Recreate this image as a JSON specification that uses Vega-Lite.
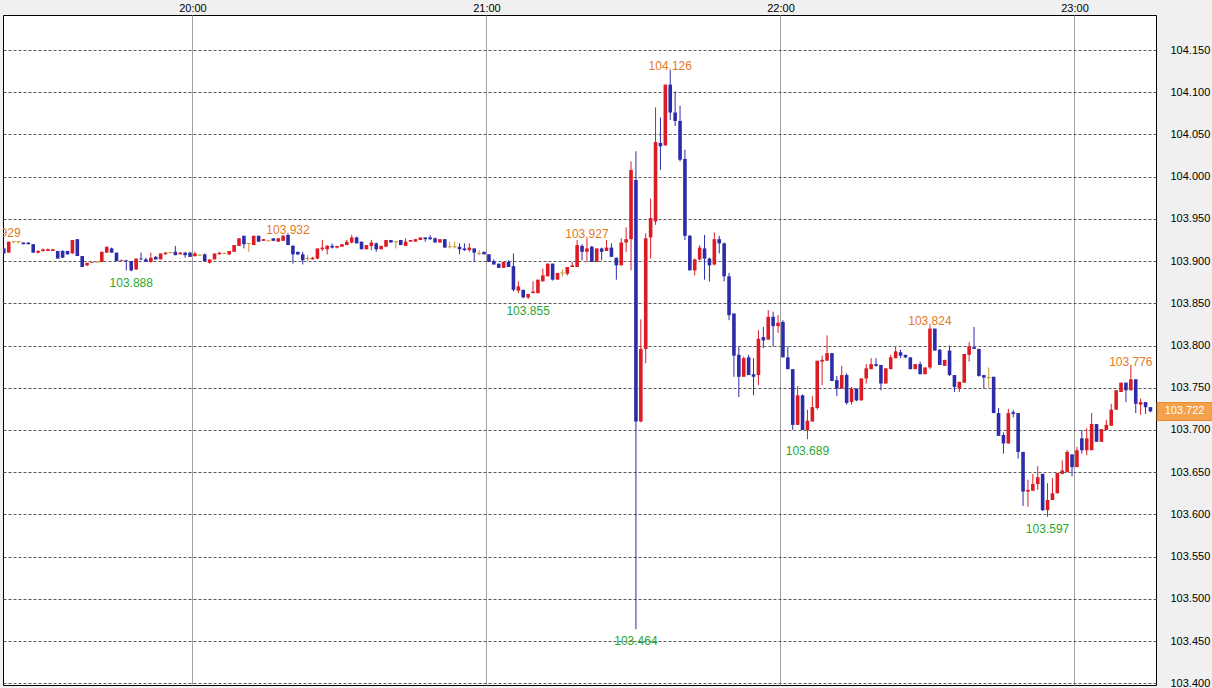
{
"$schema": "https://vega.github.io/schema/vega-lite/v6.json",
"width": 1153, "height": 670,
"autosize": "none",
"padding": {"left": 3, "top": 15, "right": 56, "bottom": 3},
"background": "#f0f0f0",
"config": {
 "view": {"fill": "#ffffff", "stroke": "#000000", "strokeWidth": 1},
 "axis": {"labelFont": "Liberation Sans, Arial, sans-serif", "labelFontSize": 11, "labelColor": "#000000", "ticks": false, "domain": false, "title": null}
},
"data": {"format": {"parse": {"t": "date:'%H:%M'"}}, "values": [
{"t":"19:20","o":103.918,"h":103.929,"l":103.914,"c":103.916},
{"t":"19:21","o":103.915,"h":103.916,"l":103.909,"c":103.909},
{"t":"19:22","o":103.910,"h":103.923,"l":103.910,"c":103.923},
{"t":"19:23","o":103.923,"h":103.923,"l":103.921,"c":103.923},
{"t":"19:24","o":103.923,"h":103.923,"l":103.921,"c":103.923},
{"t":"19:25","o":103.922,"h":103.922,"l":103.920,"c":103.920},
{"t":"19:26","o":103.922,"h":103.922,"l":103.920,"c":103.920},
{"t":"19:27","o":103.920,"h":103.920,"l":103.910,"c":103.910},
{"t":"19:28","o":103.910,"h":103.913,"l":103.909,"c":103.912},
{"t":"19:29","o":103.912,"h":103.915,"l":103.911,"c":103.914},
{"t":"19:30","o":103.912,"h":103.915,"l":103.912,"c":103.914},
{"t":"19:31","o":103.912,"h":103.914,"l":103.912,"c":103.914},
{"t":"19:32","o":103.912,"h":103.912,"l":103.903,"c":103.903},
{"t":"19:33","o":103.912,"h":103.913,"l":103.904,"c":103.904},
{"t":"19:34","o":103.912,"h":103.912,"l":103.908,"c":103.908},
{"t":"19:35","o":103.909,"h":103.925,"l":103.909,"c":103.925},
{"t":"19:36","o":103.926,"h":103.926,"l":103.906,"c":103.906},
{"t":"19:37","o":103.906,"h":103.906,"l":103.893,"c":103.893},
{"t":"19:38","o":103.895,"h":103.898,"l":103.894,"c":103.898},
{"t":"19:39","o":103.898,"h":103.899,"l":103.898,"c":103.899},
{"t":"19:40","o":103.899,"h":103.900,"l":103.898,"c":103.899},
{"t":"19:41","o":103.899,"h":103.911,"l":103.899,"c":103.911},
{"t":"19:42","o":103.910,"h":103.917,"l":103.910,"c":103.917},
{"t":"19:43","o":103.915,"h":103.916,"l":103.910,"c":103.910},
{"t":"19:44","o":103.910,"h":103.910,"l":103.900,"c":103.900},
{"t":"19:45","o":103.900,"h":103.902,"l":103.900,"c":103.901},
{"t":"19:46","o":103.901,"h":103.901,"l":103.889,"c":103.900},
{"t":"19:47","o":103.900,"h":103.900,"l":103.888,"c":103.889},
{"t":"19:48","o":103.890,"h":103.903,"l":103.890,"c":103.903},
{"t":"19:49","o":103.903,"h":103.910,"l":103.901,"c":103.902},
{"t":"19:50","o":103.902,"h":103.904,"l":103.899,"c":103.899},
{"t":"19:51","o":103.899,"h":103.910,"l":103.898,"c":103.904},
{"t":"19:52","o":103.905,"h":103.906,"l":103.902,"c":103.902},
{"t":"19:53","o":103.902,"h":103.909,"l":103.902,"c":103.909},
{"t":"19:54","o":103.908,"h":103.911,"l":103.908,"c":103.910},
{"t":"19:55","o":103.910,"h":103.911,"l":103.909,"c":103.910},
{"t":"19:56","o":103.911,"h":103.918,"l":103.907,"c":103.907},
{"t":"19:57","o":103.908,"h":103.911,"l":103.908,"c":103.910},
{"t":"19:58","o":103.910,"h":103.911,"l":103.904,"c":103.907},
{"t":"19:59","o":103.910,"h":103.911,"l":103.905,"c":103.905},
{"t":"20:00","o":103.906,"h":103.911,"l":103.905,"c":103.909},
{"t":"20:01","o":103.907,"h":103.908,"l":103.906,"c":103.907},
{"t":"20:02","o":103.908,"h":103.909,"l":103.900,"c":103.900},
{"t":"20:03","o":103.898,"h":103.902,"l":103.897,"c":103.902},
{"t":"20:04","o":103.902,"h":103.909,"l":103.902,"c":103.909},
{"t":"20:05","o":103.908,"h":103.911,"l":103.908,"c":103.910},
{"t":"20:06","o":103.909,"h":103.910,"l":103.909,"c":103.909},
{"t":"20:07","o":103.908,"h":103.912,"l":103.907,"c":103.912},
{"t":"20:08","o":103.911,"h":103.919,"l":103.911,"c":103.919},
{"t":"20:09","o":103.918,"h":103.927,"l":103.918,"c":103.927},
{"t":"20:10","o":103.930,"h":103.930,"l":103.915,"c":103.920},
{"t":"20:11","o":103.921,"h":103.921,"l":103.911,"c":103.921},
{"t":"20:12","o":103.919,"h":103.930,"l":103.919,"c":103.930},
{"t":"20:13","o":103.930,"h":103.930,"l":103.923,"c":103.923},
{"t":"20:14","o":103.924,"h":103.926,"l":103.924,"c":103.926},
{"t":"20:15","o":103.924,"h":103.925,"l":103.924,"c":103.924},
{"t":"20:16","o":103.927,"h":103.927,"l":103.924,"c":103.924},
{"t":"20:17","o":103.923,"h":103.927,"l":103.923,"c":103.927},
{"t":"20:18","o":103.924,"h":103.931,"l":103.924,"c":103.930},
{"t":"20:19","o":103.931,"h":103.932,"l":103.919,"c":103.919},
{"t":"20:20","o":103.918,"h":103.919,"l":103.897,"c":103.908},
{"t":"20:21","o":103.911,"h":103.911,"l":103.907,"c":103.908},
{"t":"20:22","o":103.908,"h":103.911,"l":103.896,"c":103.901},
{"t":"20:23","o":103.903,"h":103.907,"l":103.900,"c":103.903},
{"t":"20:24","o":103.902,"h":103.905,"l":103.902,"c":103.904},
{"t":"20:25","o":103.903,"h":103.915,"l":103.902,"c":103.915},
{"t":"20:26","o":103.914,"h":103.925,"l":103.912,"c":103.916},
{"t":"20:27","o":103.914,"h":103.919,"l":103.908,"c":103.918},
{"t":"20:28","o":103.918,"h":103.921,"l":103.915,"c":103.916},
{"t":"20:29","o":103.916,"h":103.918,"l":103.915,"c":103.918},
{"t":"20:30","o":103.917,"h":103.920,"l":103.917,"c":103.920},
{"t":"20:31","o":103.919,"h":103.925,"l":103.919,"c":103.923},
{"t":"20:32","o":103.922,"h":103.931,"l":103.921,"c":103.928},
{"t":"20:33","o":103.928,"h":103.929,"l":103.921,"c":103.921},
{"t":"20:34","o":103.923,"h":103.923,"l":103.914,"c":103.914},
{"t":"20:35","o":103.914,"h":103.919,"l":103.914,"c":103.919},
{"t":"20:36","o":103.918,"h":103.925,"l":103.913,"c":103.922},
{"t":"20:37","o":103.921,"h":103.922,"l":103.911,"c":103.914},
{"t":"20:38","o":103.914,"h":103.918,"l":103.914,"c":103.918},
{"t":"20:39","o":103.917,"h":103.925,"l":103.917,"c":103.925},
{"t":"20:40","o":103.925,"h":103.925,"l":103.922,"c":103.922},
{"t":"20:41","o":103.923,"h":103.923,"l":103.915,"c":103.923},
{"t":"20:42","o":103.925,"h":103.925,"l":103.919,"c":103.919},
{"t":"20:43","o":103.918,"h":103.927,"l":103.918,"c":103.923},
{"t":"20:44","o":103.923,"h":103.925,"l":103.923,"c":103.925},
{"t":"20:45","o":103.923,"h":103.926,"l":103.923,"c":103.926},
{"t":"20:46","o":103.925,"h":103.928,"l":103.925,"c":103.928},
{"t":"20:47","o":103.928,"h":103.928,"l":103.923,"c":103.926},
{"t":"20:48","o":103.928,"h":103.931,"l":103.925,"c":103.926},
{"t":"20:49","o":103.927,"h":103.928,"l":103.922,"c":103.922},
{"t":"20:50","o":103.922,"h":103.926,"l":103.922,"c":103.926},
{"t":"20:51","o":103.926,"h":103.926,"l":103.916,"c":103.916},
{"t":"20:52","o":103.917,"h":103.923,"l":103.915,"c":103.917},
{"t":"20:53","o":103.917,"h":103.923,"l":103.915,"c":103.917},
{"t":"20:54","o":103.917,"h":103.921,"l":103.908,"c":103.914},
{"t":"20:55","o":103.915,"h":103.921,"l":103.912,"c":103.913},
{"t":"20:56","o":103.913,"h":103.921,"l":103.911,"c":103.916},
{"t":"20:57","o":103.915,"h":103.915,"l":103.899,"c":103.910},
{"t":"20:58","o":103.909,"h":103.913,"l":103.907,"c":103.909},
{"t":"20:59","o":103.911,"h":103.911,"l":103.908,"c":103.908},
{"t":"21:00","o":103.908,"h":103.908,"l":103.899,"c":103.899},
{"t":"21:01","o":103.900,"h":103.902,"l":103.896,"c":103.896},
{"t":"21:02","o":103.897,"h":103.897,"l":103.892,"c":103.892},
{"t":"21:03","o":103.892,"h":103.899,"l":103.892,"c":103.899},
{"t":"21:04","o":103.899,"h":103.901,"l":103.893,"c":103.893},
{"t":"21:05","o":103.894,"h":103.909,"l":103.864,"c":103.866},
{"t":"21:06","o":103.865,"h":103.876,"l":103.862,"c":103.870},
{"t":"21:07","o":103.866,"h":103.866,"l":103.856,"c":103.857},
{"t":"21:08","o":103.857,"h":103.861,"l":103.855,"c":103.861},
{"t":"21:09","o":103.862,"h":103.876,"l":103.862,"c":103.864},
{"t":"21:10","o":103.862,"h":103.878,"l":103.862,"c":103.878},
{"t":"21:11","o":103.876,"h":103.891,"l":103.876,"c":103.883},
{"t":"21:12","o":103.882,"h":103.897,"l":103.882,"c":103.897},
{"t":"21:13","o":103.897,"h":103.897,"l":103.877,"c":103.878},
{"t":"21:14","o":103.878,"h":103.886,"l":103.878,"c":103.886},
{"t":"21:15","o":103.886,"h":103.890,"l":103.882,"c":103.886},
{"t":"21:16","o":103.885,"h":103.893,"l":103.883,"c":103.893},
{"t":"21:17","o":103.893,"h":103.899,"l":103.893,"c":103.895},
{"t":"21:18","o":103.893,"h":103.925,"l":103.893,"c":103.919},
{"t":"21:19","o":103.918,"h":103.920,"l":103.901,"c":103.911},
{"t":"21:20","o":103.911,"h":103.927,"l":103.899,"c":103.915},
{"t":"21:21","o":103.917,"h":103.918,"l":103.899,"c":103.899},
{"t":"21:22","o":103.899,"h":103.915,"l":103.899,"c":103.915},
{"t":"21:23","o":103.915,"h":103.916,"l":103.901,"c":103.911},
{"t":"21:24","o":103.912,"h":103.925,"l":103.912,"c":103.916},
{"t":"21:25","o":103.916,"h":103.921,"l":103.905,"c":103.905},
{"t":"21:26","o":103.904,"h":103.904,"l":103.878,"c":103.895},
{"t":"21:27","o":103.895,"h":103.927,"l":103.895,"c":103.922},
{"t":"21:28","o":103.922,"h":103.940,"l":103.911,"c":103.926},
{"t":"21:29","o":103.926,"h":104.018,"l":103.889,"c":104.008},
{"t":"21:30","o":103.996,"h":104.030,"l":103.464,"c":103.710},
{"t":"21:31","o":103.710,"h":103.831,"l":103.709,"c":103.796},
{"t":"21:32","o":103.796,"h":103.933,"l":103.779,"c":103.927},
{"t":"21:33","o":103.928,"h":103.974,"l":103.903,"c":103.951},
{"t":"21:34","o":103.947,"h":104.082,"l":103.943,"c":104.041},
{"t":"21:35","o":104.040,"h":104.070,"l":104.008,"c":104.036},
{"t":"21:36","o":104.037,"h":104.109,"l":104.037,"c":104.109},
{"t":"21:37","o":104.109,"h":104.126,"l":104.067,"c":104.076},
{"t":"21:38","o":104.076,"h":104.101,"l":104.060,"c":104.066},
{"t":"21:39","o":104.066,"h":104.084,"l":104.018,"c":104.020},
{"t":"21:40","o":104.021,"h":104.032,"l":103.925,"c":103.930},
{"t":"21:41","o":103.930,"h":103.931,"l":103.889,"c":103.889},
{"t":"21:42","o":103.889,"h":103.903,"l":103.883,"c":103.902},
{"t":"21:43","o":103.902,"h":103.919,"l":103.901,"c":103.916},
{"t":"21:44","o":103.915,"h":103.931,"l":103.878,"c":103.903},
{"t":"21:45","o":103.903,"h":103.904,"l":103.876,"c":103.895},
{"t":"21:46","o":103.896,"h":103.934,"l":103.895,"c":103.926},
{"t":"21:47","o":103.926,"h":103.930,"l":103.909,"c":103.921},
{"t":"21:48","o":103.921,"h":103.922,"l":103.876,"c":103.882},
{"t":"21:49","o":103.882,"h":103.886,"l":103.830,"c":103.836},
{"t":"21:50","o":103.838,"h":103.838,"l":103.763,"c":103.788},
{"t":"21:51","o":103.789,"h":103.799,"l":103.739,"c":103.763},
{"t":"21:52","o":103.763,"h":103.787,"l":103.763,"c":103.785},
{"t":"21:53","o":103.786,"h":103.789,"l":103.765,"c":103.765},
{"t":"21:54","o":103.766,"h":103.785,"l":103.741,"c":103.763},
{"t":"21:55","o":103.765,"h":103.818,"l":103.753,"c":103.808},
{"t":"21:56","o":103.810,"h":103.822,"l":103.797,"c":103.806},
{"t":"21:57","o":103.807,"h":103.842,"l":103.807,"c":103.834},
{"t":"21:58","o":103.834,"h":103.840,"l":103.799,"c":103.823},
{"t":"21:59","o":103.823,"h":103.836,"l":103.815,"c":103.827},
{"t":"22:00","o":103.828,"h":103.830,"l":103.786,"c":103.786},
{"t":"22:01","o":103.786,"h":103.799,"l":103.772,"c":103.772},
{"t":"22:02","o":103.772,"h":103.772,"l":103.700,"c":103.706},
{"t":"22:03","o":103.706,"h":103.752,"l":103.706,"c":103.741},
{"t":"22:04","o":103.741,"h":103.742,"l":103.700,"c":103.700},
{"t":"22:05","o":103.700,"h":103.724,"l":103.689,"c":103.711},
{"t":"22:06","o":103.710,"h":103.740,"l":103.710,"c":103.727},
{"t":"22:07","o":103.726,"h":103.782,"l":103.724,"c":103.782},
{"t":"22:08","o":103.781,"h":103.788,"l":103.753,"c":103.783},
{"t":"22:09","o":103.782,"h":103.812,"l":103.782,"c":103.791},
{"t":"22:10","o":103.791,"h":103.791,"l":103.758,"c":103.758},
{"t":"22:11","o":103.759,"h":103.764,"l":103.740,"c":103.749},
{"t":"22:12","o":103.749,"h":103.776,"l":103.749,"c":103.765},
{"t":"22:13","o":103.765,"h":103.767,"l":103.730,"c":103.732},
{"t":"22:14","o":103.733,"h":103.751,"l":103.730,"c":103.749},
{"t":"22:15","o":103.749,"h":103.749,"l":103.734,"c":103.735},
{"t":"22:16","o":103.735,"h":103.761,"l":103.735,"c":103.761},
{"t":"22:17","o":103.761,"h":103.778,"l":103.755,"c":103.773},
{"t":"22:18","o":103.772,"h":103.785,"l":103.772,"c":103.778},
{"t":"22:19","o":103.778,"h":103.785,"l":103.775,"c":103.776},
{"t":"22:20","o":103.777,"h":103.777,"l":103.747,"c":103.755},
{"t":"22:21","o":103.755,"h":103.773,"l":103.755,"c":103.773},
{"t":"22:22","o":103.772,"h":103.789,"l":103.772,"c":103.786},
{"t":"22:23","o":103.785,"h":103.799,"l":103.785,"c":103.793},
{"t":"22:24","o":103.792,"h":103.795,"l":103.785,"c":103.788},
{"t":"22:25","o":103.789,"h":103.789,"l":103.785,"c":103.786},
{"t":"22:26","o":103.786,"h":103.786,"l":103.772,"c":103.772},
{"t":"22:27","o":103.772,"h":103.778,"l":103.772,"c":103.778},
{"t":"22:28","o":103.778,"h":103.781,"l":103.766,"c":103.766},
{"t":"22:29","o":103.766,"h":103.774,"l":103.766,"c":103.774},
{"t":"22:30","o":103.774,"h":103.824,"l":103.772,"c":103.820},
{"t":"22:31","o":103.820,"h":103.820,"l":103.794,"c":103.794},
{"t":"22:32","o":103.795,"h":103.796,"l":103.777,"c":103.777},
{"t":"22:33","o":103.776,"h":103.783,"l":103.776,"c":103.783},
{"t":"22:34","o":103.794,"h":103.800,"l":103.764,"c":103.765},
{"t":"22:35","o":103.765,"h":103.765,"l":103.745,"c":103.751},
{"t":"22:36","o":103.749,"h":103.757,"l":103.745,"c":103.757},
{"t":"22:37","o":103.756,"h":103.790,"l":103.756,"c":103.790},
{"t":"22:38","o":103.789,"h":103.804,"l":103.781,"c":103.799},
{"t":"22:39","o":103.798,"h":103.822,"l":103.796,"c":103.796},
{"t":"22:40","o":103.796,"h":103.796,"l":103.763,"c":103.764},
{"t":"22:41","o":103.765,"h":103.765,"l":103.749,"c":103.762},
{"t":"22:42","o":103.762,"h":103.774,"l":103.750,"c":103.762},
{"t":"22:43","o":103.763,"h":103.763,"l":103.720,"c":103.720},
{"t":"22:44","o":103.720,"h":103.726,"l":103.693,"c":103.693},
{"t":"22:45","o":103.694,"h":103.697,"l":103.672,"c":103.684},
{"t":"22:46","o":103.684,"h":103.725,"l":103.684,"c":103.720},
{"t":"22:47","o":103.721,"h":103.724,"l":103.715,"c":103.719},
{"t":"22:48","o":103.720,"h":103.720,"l":103.666,"c":103.674},
{"t":"22:49","o":103.674,"h":103.674,"l":103.610,"c":103.627},
{"t":"22:50","o":103.627,"h":103.641,"l":103.609,"c":103.629},
{"t":"22:51","o":103.628,"h":103.648,"l":103.628,"c":103.636},
{"t":"22:52","o":103.636,"h":103.657,"l":103.629,"c":103.644},
{"t":"22:53","o":103.648,"h":103.648,"l":103.604,"c":103.605},
{"t":"22:54","o":103.605,"h":103.637,"l":103.597,"c":103.617},
{"t":"22:55","o":103.617,"h":103.643,"l":103.617,"c":103.625},
{"t":"22:56","o":103.625,"h":103.649,"l":103.625,"c":103.649},
{"t":"22:57","o":103.648,"h":103.664,"l":103.648,"c":103.652},
{"t":"22:58","o":103.650,"h":103.676,"l":103.650,"c":103.674},
{"t":"22:59","o":103.671,"h":103.671,"l":103.645,"c":103.656},
{"t":"23:00","o":103.656,"h":103.680,"l":103.656,"c":103.676},
{"t":"23:01","o":103.690,"h":103.700,"l":103.672,"c":103.676},
{"t":"23:02","o":103.676,"h":103.702,"l":103.670,"c":103.690},
{"t":"23:03","o":103.676,"h":103.720,"l":103.676,"c":103.707},
{"t":"23:04","o":103.707,"h":103.707,"l":103.686,"c":103.686},
{"t":"23:05","o":103.686,"h":103.701,"l":103.686,"c":103.701},
{"t":"23:06","o":103.700,"h":103.712,"l":103.700,"c":103.706},
{"t":"23:07","o":103.705,"h":103.731,"l":103.705,"c":103.724},
{"t":"23:08","o":103.724,"h":103.747,"l":103.724,"c":103.747},
{"t":"23:09","o":103.745,"h":103.756,"l":103.745,"c":103.756},
{"t":"23:10","o":103.756,"h":103.756,"l":103.733,"c":103.747},
{"t":"23:11","o":103.747,"h":103.776,"l":103.747,"c":103.760},
{"t":"23:12","o":103.760,"h":103.760,"l":103.720,"c":103.731},
{"t":"23:13","o":103.730,"h":103.737,"l":103.718,"c":103.733},
{"t":"23:14","o":103.733,"h":103.733,"l":103.719,"c":103.727},
{"t":"23:15","o":103.727,"h":103.727,"l":103.721,"c":103.722}
]},
"layer": [
 {
  "mark": {"type": "rule", "strokeWidth": 1, "clip": true},
  "encoding": {
   "x": {"field": "t", "type": "temporal", "timeUnit": "hoursminutes", "bandPosition": 0.5, "title": null,
     "scale": {"domain": [{"hours": 19, "minutes": 21, "seconds": 20}, {"hours": 23, "minutes": 16, "seconds": 38}]},
     "axis": {"orient": "top", "values": [{"hours": 20, "minutes": 0}, {"hours": 21, "minutes": 0}, {"hours": 22, "minutes": 0}, {"hours": 23, "minutes": 0}], "format": "%H:%M", "labelPadding": 2, "grid": true, "gridColor": "#a0a0a0", "gridWidth": 1, "labelFlush": false, "labelOverlap": false}},
   "y": {"field": "l", "type": "quantitative", "title": null,
     "scale": {"domain": [103.3979, 104.1915], "nice": false, "zero": false},
     "axis": {"orient": "right", "values": [103.4, 103.45, 103.5, 103.55, 103.6, 103.65, 103.7, 103.75, 103.8, 103.85, 103.9, 103.95, 104.0, 104.05, 104.1, 104.15], "format": ".3f", "labelAlign": "left", "labelPadding": 14, "grid": true, "gridDash": [3, 2], "gridColor": "#5a5a5a", "gridWidth": 1, "labelFlush": false, "labelOverlap": false}},
   "y2": {"field": "h"},
   "color": {"condition": [{"test": "datum.c > datum.o", "value": "#dc1c24"}, {"test": "datum.c < datum.o", "value": "#2c2caa"}], "value": "#c89628"}
  }
 },
 {
  "mark": {"type": "rule", "strokeWidth": 3.6, "strokeCap": "butt", "clip": true},
  "encoding": {
   "x": {"field": "t", "type": "temporal", "timeUnit": "hoursminutes", "bandPosition": 0.5, "title": null},
   "y": {"field": "o", "type": "quantitative", "title": null},
   "y2": {"field": "c"},
   "color": {"condition": [{"test": "datum.c > datum.o", "value": "#dc1c24"}, {"test": "datum.c < datum.o", "value": "#2c2caa"}], "value": "#c89628"}
  }
 },
 {
  "transform": [{"filter": "datum.o == datum.c"}],
  "mark": {"type": "tick", "orient": "horizontal", "size": 4, "thickness": 1, "color": "#c89628", "opacity": 1, "clip": true},
  "encoding": {
   "x": {"field": "t", "type": "temporal", "timeUnit": "hoursminutes", "bandPosition": 0.5, "title": null},
   "y": {"field": "c", "type": "quantitative", "title": null}
  }
 },
 {
  "data": {"format": {"parse": {"t": "date:'%H:%M'"}}, "values": [
   {"t": "19:20", "v": 103.929, "label": "103.929", "kind": "high"},
   {"t": "20:19", "v": 103.932, "label": "103.932", "kind": "high"},
   {"t": "21:20", "v": 103.927, "label": "103.927", "kind": "high"},
   {"t": "21:37", "v": 104.126, "label": "104.126", "kind": "high"},
   {"t": "22:30", "v": 103.824, "label": "103.824", "kind": "high"},
   {"t": "23:11", "v": 103.776, "label": "103.776", "kind": "high"}
  ]},
  "mark": {"type": "text", "align": "center", "baseline": "alphabetic", "dy": 0, "font": "Liberation Sans, Arial, sans-serif", "fontSize": 12, "color": "#e27a1e", "clip": true},
  "encoding": {
   "x": {"field": "t", "type": "temporal", "timeUnit": "hoursminutes", "bandPosition": 0.5, "title": null},
   "y": {"field": "v", "type": "quantitative", "title": null},
   "text": {"field": "label"}
  }
 },
 {
  "data": {"format": {"parse": {"t": "date:'%H:%M'"}}, "values": [
   {"t": "19:47", "v": 103.888, "label": "103.888", "kind": "low"},
   {"t": "21:08", "v": 103.855, "label": "103.855", "kind": "low"},
   {"t": "21:30", "v": 103.464, "label": "103.464", "kind": "low"},
   {"t": "22:05", "v": 103.689, "label": "103.689", "kind": "low"},
   {"t": "22:54", "v": 103.597, "label": "103.597", "kind": "low"}
  ]},
  "mark": {"type": "text", "align": "center", "baseline": "top", "dy": 7, "font": "Liberation Sans, Arial, sans-serif", "fontSize": 12, "color": "#2aa82a", "clip": true},
  "encoding": {
   "x": {"field": "t", "type": "temporal", "timeUnit": "hoursminutes", "bandPosition": 0.5, "title": null},
   "y": {"field": "v", "type": "quantitative", "title": null},
   "text": {"field": "label"}
  }
 },
 {
  "data": {"values": [{"v": 103.722, "label": "103.722"}]},
  "mark": {"type": "rule", "strokeWidth": 19, "strokeCap": "butt", "color": "#e8902e"},
  "encoding": {
   "x": {"datum": {"hours": 23, "minutes": 16, "seconds": 46}, "type": "temporal"},
   "x2": {"datum": {"hours": 23, "minutes": 28, "seconds": 10}},
   "y": {"field": "v", "type": "quantitative", "title": null}
  }
 },
 {
  "data": {"values": [{"v": 103.722, "label": "103.722"}]},
  "mark": {"type": "rule", "strokeWidth": 17, "strokeCap": "butt", "color": "#f5a04a"},
  "encoding": {
   "x": {"datum": {"hours": 23, "minutes": 16, "seconds": 58}, "type": "temporal"},
   "x2": {"datum": {"hours": 23, "minutes": 28, "seconds": 0}},
   "y": {"field": "v", "type": "quantitative", "title": null}
  }
 },
 {
  "data": {"values": [{"v": 103.722, "label": "103.722"}]},
  "mark": {"type": "text", "align": "center", "baseline": "middle", "font": "Liberation Sans, Arial, sans-serif", "fontSize": 11, "color": "#ffffff"},
  "encoding": {
   "x": {"datum": {"hours": 23, "minutes": 22, "seconds": 27}, "type": "temporal"},
   "y": {"field": "v", "type": "quantitative", "title": null},
   "text": {"field": "label"}
  }
 }
]
}
